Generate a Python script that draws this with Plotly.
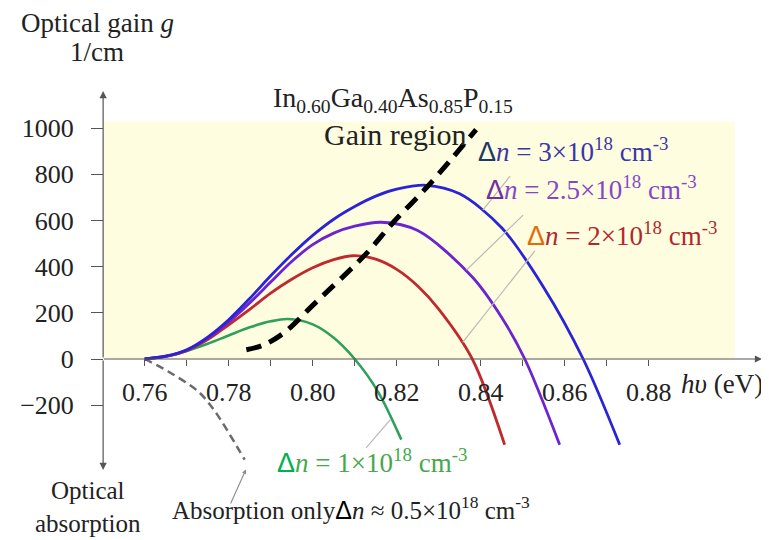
import plotly.graph_objects as go

# ---------------- data ----------------
blue_x = [0.760, 0.765, 0.770, 0.775, 0.780, 0.785, 0.790, 0.795, 0.800, 0.805, 0.810, 0.815, 0.820, 0.827, 0.835, 0.845, 0.855, 0.8644, 0.8731]
blue_y = [0, 12, 40, 95, 170, 262, 360, 452, 535, 605, 660, 705, 735, 752, 715, 568, 310, 0, -371]

purple_x = [0.760, 0.765, 0.770, 0.775, 0.780, 0.785, 0.790, 0.795, 0.800, 0.805, 0.810, 0.8163, 0.825, 0.838, 0.845, 0.8505, 0.8588]
purple_y = [0, 12, 38, 90, 160, 243, 333, 422, 495, 545, 575, 592, 556, 355, 180, 0, -371]

red_x = [0.760, 0.765, 0.770, 0.775, 0.780, 0.785, 0.790, 0.795, 0.800, 0.805, 0.8096, 0.815, 0.820, 0.825, 0.830, 0.838, 0.8457]
red_y = [0, 11, 36, 84, 148, 215, 285, 345, 395, 430, 447, 432, 388, 316, 216, 0, -371]

green_x = [0.760, 0.765, 0.770, 0.775, 0.780, 0.785, 0.790, 0.7941, 0.800, 0.805, 0.810, 0.8155, 0.8211]
green_y = [0, 11, 35, 66, 102, 137, 163, 173, 150, 92, 0, -140, -349]

locus_x = [0.7842, 0.7885, 0.7935, 0.800, 0.8127, 0.8191, 0.827, 0.833, 0.8389]
locus_y = [40, 62, 118, 232, 455, 590, 740, 865, 993]

absorb_x = [0.760, 0.7655, 0.7727, 0.7767, 0.7838]
absorb_y = [0, -53, -140, -226, -436]

x_major = [0.76, 0.78, 0.80, 0.82, 0.84, 0.86, 0.88]
x_minor = [0.77, 0.79, 0.81, 0.83, 0.85, 0.87]
y_ticks = [-200, 0, 200, 400, 600, 800, 1000]

W, H = 769, 540
SERIF = "Liberation Serif"
SANS = "Liberation Sans"

def P(px, py):
    return px / W, 1 - py / H

fig = go.Figure()

def curve(xs, ys, color, width=3, dash=None):
    fig.add_trace(go.Scatter(
        x=xs, y=ys, mode="lines",
        line=dict(color=color, width=width, shape="spline", smoothing=0.9, dash=dash),
        hoverinfo="skip", showlegend=False))

curve(absorb_x, absorb_y, "#6a6a6a", 2.5, "8px,5px")
curve(green_x, green_y, "#2f9f5c", 2.6)
curve(red_x, red_y, "#bf2a2e", 2.8)
curve(purple_x, purple_y, "#6b24cf", 2.8)
curve(blue_x, blue_y, "#2a24d6", 2.8)
curve(locus_x, locus_y, "#000000", 5, "15px,9px")

shapes = []
# yellow gain region
shapes.append(dict(type="rect", xref="x", yref="y", x0=0.7501, x1=0.9005, y0=0, y1=1028,
                   fillcolor="#fffde0", line=dict(width=0), layer="below"))
# pointer lines
ptr = "#b8b8b8"
for (x0, y0, x1, y1) in [(0.8470, 792, 0.8405, 645),
                         (0.8501, 623, 0.8366, 385),
                         (0.8529, 468, 0.8357, 72),
                         (0.8127, -385, 0.8185, -262)]:
    shapes.append(dict(type="line", xref="x", yref="y", x0=x0, y0=y0, x1=x1, y1=y1,
                       line=dict(color=ptr, width=1.2)))

ann = []
axc = "#555555"
# axes arrows
ann.append(dict(x=0.907, y=0, ax=0.7499, ay=0, xref="x", yref="y", axref="x", ayref="y",
                text="", showarrow=True, arrowhead=2, arrowsize=1.2, arrowwidth=1.2, arrowcolor=axc))
ann.append(dict(x=0.7501, y=1160, ax=0.7501, ay=0, xref="x", yref="y", axref="x", ayref="y",
                text="", showarrow=True, arrowhead=2, arrowsize=1.2, arrowwidth=1.2, arrowcolor=axc))
ann.append(dict(x=0.7501, y=-480, ax=0.7501, ay=0, xref="x", yref="y", axref="x", ayref="y",
                text="", showarrow=True, arrowhead=2, arrowsize=1.2, arrowwidth=1.2, arrowcolor=axc))
# absorption pointer
ann.append(dict(x=0.7841, y=-478, ax=0.7803, ay=-632, xref="x", yref="y", axref="x", ayref="y",
                text="", showarrow=True, arrowhead=2, arrowsize=0.8, arrowwidth=1.1, arrowcolor="#8a8a8a"))

def txt(px, py, text, size=26, color="#222222", xanchor="left", align="left"):
    x, y = P(px, py)
    ann.append(dict(x=x, y=y, xref="paper", yref="paper", text=text, showarrow=False,
                    xanchor=xanchor, yanchor="middle", align=align, borderpad=0,
                    font=dict(family=SERIF, size=size, color=color)))

def delta(c):
    return f'<span style="font-family:{SANS};color:{c}">Δ</span>'

txt(89, 15, "Optical gain <i>g</i>", 27, xanchor="center")
txt(89, 44, "1/cm", 27, xanchor="center")
txt(264, 91, "In<sub>0.60</sub>Ga<sub>0.40</sub>As<sub>0.85</sub>P<sub>0.15</sub>", 28)
txt(387, 126, "Gain region", 30, xanchor="center")
txt(469, 142, delta("#1f3864") + "<i>n</i> = 3×10<sup>18</sup> cm<sup>-3</sup>", 27, "#3a36a8")
txt(477, 180, delta("#7030a0") + "<i>n</i> = 2.5×10<sup>18</sup> cm<sup>-3</sup>", 27, "#8546c8")
txt(518, 226, delta("#e36c09") + "<i>n</i> = 2×10<sup>18</sup> cm<sup>-3</sup>", 27, "#b0282c")
txt(268, 453, delta("#00b050") + "<i>n</i> = 1×10<sup>18</sup> cm<sup>-3</sup>", 27, "#45a84a")
txt(163, 500, "Absorption only" + delta("#000000") + "<i>n</i> ≈ 0.5×10<sup>18</sup> cm<sup>-3</sup>", 25, "#222222")
txt(80, 499, "Optical<br>absorption", 25, xanchor="center", align="center")
txt(672, 376, "<i>hυ</i> (eV)", 27)

fig.update_layout(
    width=W, height=H, margin=dict(l=0, r=0, t=0, b=0),
    paper_bgcolor="white", plot_bgcolor="white",
    shapes=shapes, annotations=ann, showlegend=False,
    xaxis=dict(range=[0.72745, 0.910548], anchor="free", position=1 - 351 / H,
               tickvals=x_major, ticktext=[f"{v:.2f}" for v in x_major],
               ticks="outside", ticklen=6, tickwidth=1, tickcolor=axc,
               minor=dict(tickvals=x_minor, ticks="outside", ticklen=6, tickwidth=1, tickcolor=axc),
               showline=False, showgrid=False, zeroline=False,
               tickfont=dict(family=SERIF, size=26, color="#222222"),
               ticklabelstandoff=4, fixedrange=True),
    yaxis=dict(range=[-818.2, 1519.5], anchor="free", position=95 / W,
               tickvals=y_ticks, ticktext=["−200" if v < 0 else str(v) for v in y_ticks],
               ticks="outside", ticklen=12, tickwidth=1, tickcolor=axc,
               showline=False, showgrid=False, zeroline=False,
               tickfont=dict(family=SERIF, size=26, color="#222222"),
               ticklabelstandoff=12, fixedrange=True),
)

fig.write_html("out.html")
